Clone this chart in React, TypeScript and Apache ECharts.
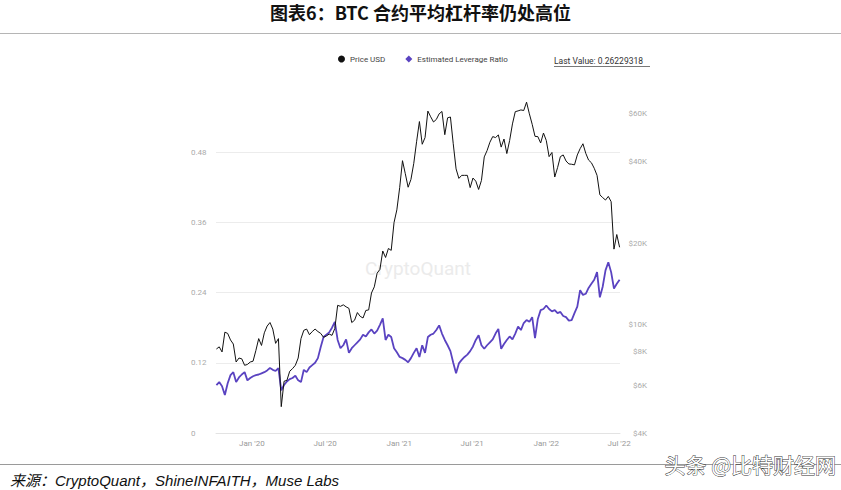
import React, { useEffect, useRef } from "react";
import * as echarts from "echarts";

const DAY = 86400000;
const START = Date.UTC(2019, 9, 5); // first weekly sample
const X_MIN = Date.UTC(2019, 9, 4);
const X_MAX = Date.UTC(2022, 6, 3);

const priceUSD = [
  8150, 8300, 7950, 9400, 9300, 8800, 8500, 7300, 7550, 7500, 7100, 7150, 7300,
  7350, 8050, 8900, 8400, 9350, 9900, 10200, 9650, 8550, 8900, 5000, 6200, 6250,
  6750, 6900, 7100, 7550, 8900, 9550, 9650, 9200, 9450, 9650, 9450, 9300, 9000,
  9100, 9250, 9150, 9700, 11800, 11700, 11850, 11650, 11500, 10200, 10400, 11100, 10750,
  10600, 11300, 11350, 13100, 13800, 15500, 16000, 18700, 17700, 19100, 18800, 23800, 26500,
  32000, 40200, 36000, 32100, 34300, 39300, 47200, 56000, 46200, 48900, 61200, 58300, 55800,
  57000, 59800, 61000, 50100, 57800, 58200, 46400, 37500, 34600, 35500, 35500, 35500, 32000,
  34700, 33800, 31500, 34000, 41500, 43800, 47000, 49300, 48900, 50000, 45100, 48300, 42700,
  47700, 54900, 60900, 61300, 61800, 61500, 66000, 59800, 54700, 49400, 49300, 46700, 50800,
  47700, 41600, 43100, 35000, 37900, 41600, 42200, 40100, 39100, 39000, 38800, 42200, 44500,
  46400, 42800, 40400, 39500, 37700, 35500, 30100, 29400, 28800, 29700, 28400, 19000, 21500,
  19300,
];

const leverageRatio = [
  0.082, 0.087, 0.08, 0.065, 0.085, 0.099, 0.104, 0.087, 0.095, 0.1, 0.104, 0.09, 0.094,
  0.097, 0.099, 0.1, 0.102, 0.104, 0.107, 0.111, 0.108, 0.106, 0.111, 0.073, 0.082, 0.088,
  0.092, 0.094, 0.098, 0.09, 0.087, 0.108, 0.104, 0.112, 0.116, 0.12, 0.128, 0.147, 0.164,
  0.168, 0.172, 0.18, 0.19, 0.159, 0.145, 0.15, 0.16, 0.137, 0.145, 0.15, 0.155, 0.16,
  0.168, 0.165, 0.172, 0.177, 0.17, 0.175, 0.185, 0.196, 0.159, 0.168, 0.164, 0.145, 0.138,
  0.13, 0.128, 0.125, 0.121, 0.128, 0.137, 0.145, 0.13, 0.15, 0.137, 0.164, 0.168, 0.17,
  0.176, 0.184, 0.17, 0.159, 0.15, 0.14, 0.12, 0.102, 0.119, 0.125, 0.13, 0.134, 0.14,
  0.148, 0.159, 0.167, 0.15, 0.144, 0.15, 0.155, 0.16, 0.17, 0.178, 0.144, 0.152, 0.159,
  0.165, 0.16, 0.17, 0.182, 0.176, 0.188, 0.193, 0.19, 0.198, 0.162, 0.195, 0.21, 0.212,
  0.218, 0.212, 0.208, 0.21, 0.205, 0.207, 0.2, 0.198, 0.192, 0.193, 0.205, 0.216, 0.244,
  0.236, 0.238, 0.248, 0.255, 0.262, 0.275, 0.232, 0.25, 0.278, 0.292, 0.275, 0.247, 0.255,
  0.262,
];

const priceTicks = [4000, 6000, 8000, 10000, 20000, 40000, 60000];
const lastValue = "0.26229318";
const titleText = "图表6：BTC 合约平均杠杆率仍处高位";
const sourceText = "来源：CryptoQuant，ShineINFAITH，Muse Labs";
const watermarkText = "头条 @比特财经网";

const PRICE_COLOR = "#111111";
const LEV_COLOR = "#5a43c1";

export default function App() {
  const ref = useRef<HTMLDivElement>(null);

  useEffect(() => {
    document.body.style.margin = "0";
    if (!ref.current) return;
    const chart = echarts.init(ref.current, undefined, { renderer: "svg" });

    const priceData = priceUSD.map((v, i) => [START + i * 7 * DAY, v]);
    const levData = leverageRatio.map((v, i) => [START + i * 7 * DAY, v]);

    const option: any = {
      animation: false,
      useUTC: true,
      backgroundColor: "#ffffff",
      textStyle: { fontFamily: "Roboto, 'Noto Sans', sans-serif" },
      grid: { left: 216, right: 221, top: 82, bottom: 57, containLabel: false },
      legend: {
        left: 333,
        top: 50,
        itemWidth: 7,
        itemHeight: 7,
        itemGap: 20,
        selectedMode: false,
        textStyle: { fontSize: 8, color: "#444" },
        data: [
          { name: "Price USD", icon: "circle" },
          { name: "Estimated Leverage Ratio", icon: "diamond" },
        ],
      },
      xAxis: {
        type: "time",
        min: X_MIN,
        max: X_MAX,
        minInterval: 181 * DAY,
        maxInterval: 182 * DAY,
        axisLine: { show: true, lineStyle: { color: "#e3e3e3" } },
        axisTick: { show: false },
        splitLine: { show: false },
        axisLabel: {
          formatter: "{MMM} '{yy}",
          color: "#999",
          fontSize: 8,
          margin: 6,
          showMinLabel: false,
          showMaxLabel: false,
        },
      },
      yAxis: [
        {
          type: "value",
          min: 0,
          max: 0.6,
          interval: 0.12,
          position: "left",
          axisLine: { show: false },
          axisTick: { show: false },
          splitLine: {
            show: true,
            showMinLine: false,
            showMaxLine: false,
            lineStyle: { color: "#ececec" },
          },
          axisLabel: {
            align: "left",
            margin: 25,
            color: "#aaa",
            fontSize: 8,
            showMaxLabel: false,
          },
        },
        {
          type: "log",
          min: 4000,
          max: 78300,
          position: "right",
          axisLine: { show: false },
          axisTick: { show: false },
          splitLine: { show: false },
          axisLabel: { show: false },
        },
      ],
      series: [
        {
          name: "Estimated Leverage Ratio",
          type: "line",
          yAxisIndex: 0,
          showSymbol: false,
          symbol: "none",
          itemStyle: { color: LEV_COLOR },
          lineStyle: { color: LEV_COLOR, width: 1.8 },
          data: levData,
          z: 2,
        },
        {
          name: "Price USD",
          type: "line",
          yAxisIndex: 1,
          showSymbol: false,
          symbol: "none",
          itemStyle: { color: PRICE_COLOR },
          lineStyle: { color: PRICE_COLOR, width: 1 },
          data: priceData,
          z: 3,
          markLine: {
            silent: true,
            animation: false,
            symbol: ["none", "none"],
            lineStyle: { color: "rgba(0,0,0,0)", width: 0 },
            label: {
              position: "end",
              distance: 27,
              align: "right",
              color: "#aaa",
              fontSize: 8,
              formatter: (p: any) => "$" + Math.round(p.value / 1000) + "K",
            },
            data: priceTicks.map((v) => ({ yAxis: v })),
          },
        },
      ],
      graphic: [
        {
          type: "text",
          x: 420.5,
          y: 12,
          style: {
            text: titleText,
            fontSize: 18,
            fontWeight: "bold",
            fontFamily: "'Noto Sans CJK SC', sans-serif",
            fill: "#111",
            align: "center",
            verticalAlign: "middle",
            textAlign: "center",
            textVerticalAlign: "middle",
          },
        },
        {
          type: "line",
          shape: { x1: 0, y1: 33.5, x2: 841, y2: 33.5 },
          style: { stroke: "#b5b5b5", lineWidth: 1 },
        },
        {
          type: "text",
          x: 418,
          y: 268,
          z: 0,
          style: {
            text: "CryptoQuant",
            fontSize: 19,
            fontFamily: "Roboto, sans-serif",
            fill: "#ebebeb",
            align: "center",
            verticalAlign: "middle",
            textAlign: "center",
            textVerticalAlign: "middle",
          },
        },
        {
          type: "text",
          x: 554,
          y: 61,
          style: {
            text: "Last Value: " + lastValue,
            fontSize: 8.5,
            fontFamily: "Roboto, sans-serif",
            fill: "#333",
            align: "left",
            verticalAlign: "middle",
            textAlign: "left",
            textVerticalAlign: "middle",
          },
        },
        {
          type: "line",
          shape: { x1: 554, y1: 66.5, x2: 650, y2: 66.5 },
          style: { stroke: "#555", lineWidth: 0.8 },
        },
        {
          type: "line",
          shape: { x1: 0, y1: 464.5, x2: 841, y2: 464.5 },
          style: { stroke: "#9a9a9a", lineWidth: 1.2 },
        },
        {
          type: "text",
          x: 10,
          y: 480,
          style: {
            text: sourceText,
            fontSize: 15,
            fontStyle: "italic",
            fontFamily: "'Liberation Sans Narrow', 'Liberation Sans', 'Noto Sans CJK SC', sans-serif",
            fill: "#111",
            align: "left",
            verticalAlign: "middle",
            textAlign: "left",
            textVerticalAlign: "middle",
          },
        },
        {
          type: "text",
          x: 836,
          y: 464,
          style: {
            text: watermarkText,
            fontSize: 21,
            fontFamily: "'Noto Sans CJK SC', sans-serif",
            fill: "#ffffff",
            stroke: "#333",
            lineWidth: 0.9,
            align: "right",
            verticalAlign: "middle",
            textAlign: "right",
            textVerticalAlign: "middle",
          },
        },
      ],
    };

    chart.setOption(option);
    return () => chart.dispose();
  }, []);

  return <div ref={ref} style={{ width: 841, height: 490 }} />;
}
